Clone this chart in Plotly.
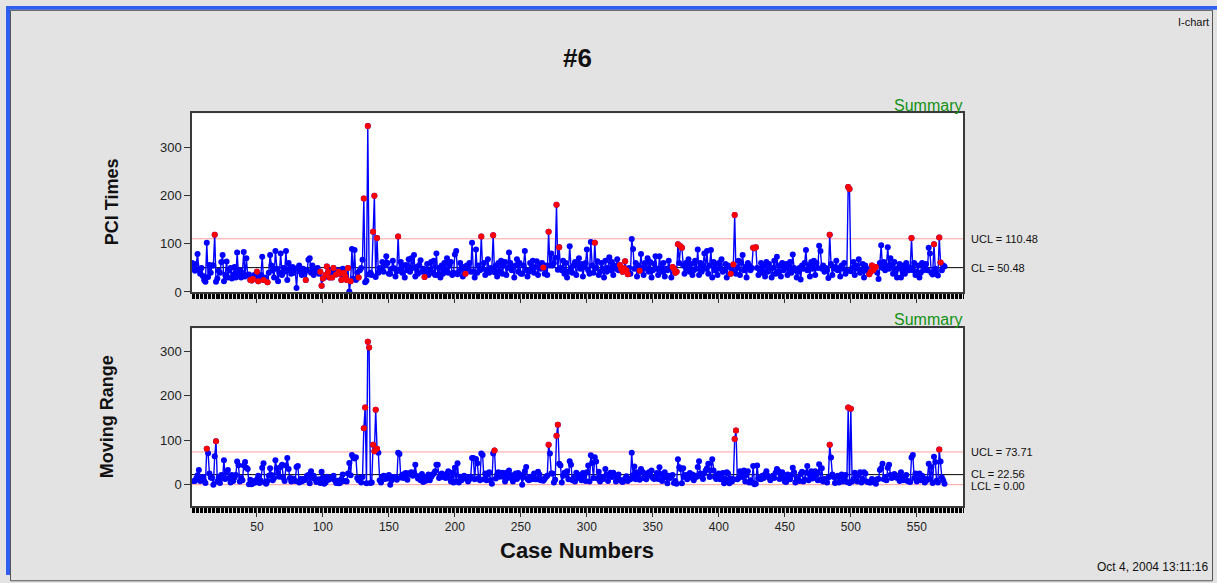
import plotly.graph_objects as go

# ---------------- data ----------------
pci_times = [
    60, 52, 44, 58, 79, 46, 38, 50, 33, 25,
    21, 102, 31, 56, 40, 55, 55, 119, 21, 28,
    44, 40, 62, 77, 22, 35, 63, 30, 45, 50,
    28, 36, 52, 30, 82, 38, 45, 30, 40, 83,
    32, 70, 35, 36, 25, 24, 27, 35, 30, 42,
    22, 26, 35, 73, 25, 30, 28, 20, 40, 77,
    55, 45, 30, 85, 48, 22, 40, 80, 35, 50,
    42, 85, 25, 60, 45, 38, 52, 40, 48, 8,
    50, 55, 42, 35, 48, 38, 25, 45, 67, 70,
    40, 55, 35, 48, 42, 50, 38, 42, 13, 28,
    30, 35, 53, 42, 30, 45, 30, 50, 40, 36,
    45, 42, 38, 25, 48, 40, 32, 25, 50, 1,
    22, 89, 28, 87, 25, 40, 30, 45, 50, 67,
    194, 20, 23, 345, 36, 40, 35, 125, 200, 31,
    112, 40, 50, 45, 62, 42, 55, 74, 60, 38,
    38, 48, 65, 49, 32, 43, 115, 46, 62, 40,
    55, 30, 56, 45, 68, 42, 70, 50, 77, 32,
    52, 38, 56, 66, 42, 48, 31, 40, 58, 35,
    45, 62, 40, 65, 35, 80, 35, 50, 30, 55,
    38, 60, 45, 70, 40, 55, 62, 35, 40, 78,
    85, 37, 42, 60, 50, 32, 52, 38, 55, 48,
    60, 42, 102, 42, 30, 88, 40, 55, 45, 115,
    48, 60, 35, 45, 68, 40, 50, 48, 118, 41,
    55, 32, 60, 42, 65, 38, 55, 62, 35, 50,
    82, 60, 45, 52, 30, 55, 68, 42, 60, 38,
    38, 55, 85, 45, 32, 42, 60, 48, 65, 40,
    52, 64, 35, 58, 48, 60, 51, 38, 55, 35,
    125, 55, 80, 55, 60, 71, 181, 46, 93, 50,
    45, 65, 38, 60, 30, 42, 95, 50, 40, 55,
    62, 35, 55, 70, 48, 58, 32, 52, 60, 88,
    45, 38, 104, 55, 40, 102, 50, 64, 35, 42,
    60, 48, 30, 65, 42, 50, 72, 45, 62, 35,
    55, 48, 68, 45, 56, 48, 42, 50, 64, 45,
    37, 50, 38, 110, 89, 48, 60, 32, 55, 44,
    79, 50, 35, 60, 48, 70, 42, 62, 30, 45,
    58, 74, 48, 35, 74, 50, 42, 60, 32, 48,
    45, 65, 50, 30, 52, 48, 40, 42, 99, 60,
    95, 92, 55, 38, 60, 48, 68, 42, 58, 35,
    45, 65, 48, 88, 35, 60, 42, 55, 80, 48,
    85, 38, 55, 87, 30, 62, 45, 58, 35, 60,
    48, 68, 42, 45, 58, 30, 55, 52, 38, 45,
    57, 160, 38, 50, 65, 35, 60, 77, 45, 52,
    30, 60, 55, 45, 50, 92, 91, 93, 50, 35,
    48, 60, 40, 55, 32, 62, 42, 58, 48, 30,
    50, 65, 38, 73, 42, 55, 32, 60, 45, 52,
    58, 35, 50, 62, 40, 78, 50, 45, 30, 42,
    50, 26, 55, 48, 60, 87, 45, 55, 32, 62,
    48, 65, 35, 60, 50, 96, 85, 48, 55, 42,
    50, 45, 29, 119, 58, 35, 52, 48, 65, 45,
    50, 32, 55, 48, 60, 38, 44, 218, 214, 43,
    50, 62, 35, 55, 48, 68, 40, 45, 58, 30,
    55, 48, 42, 37, 42, 55, 45, 50, 52, 40,
    27, 60, 97, 50, 62, 45, 55, 93, 48, 70,
    55, 38, 62, 45, 30, 50, 58, 30, 45, 55,
    38, 60, 52, 45, 51, 112, 45, 60, 35, 42,
    55, 30, 40, 60, 45, 50, 58, 45, 92, 80,
    40, 36, 99, 48, 39, 34, 113, 61, 45, 55, 53,
]
cases = list(range(1, len(pci_times) + 1))

# moving range of consecutive individual values (defined from case 2 on)
moving_range = [None] + [abs(b - a) for a, b in zip(pci_times[:-1], pci_times[1:])]

# case numbers drawn in red (rule violations) in each panel
pci_flagged = [18, 45, 46, 47, 50, 51, 55, 58, 87, 98, 99, 100, 102, 103, 104, 105,
               107, 108, 110, 112, 113, 114, 116, 117, 118, 119, 121, 127, 131, 134,
               138, 139, 141, 157, 177, 208, 220, 229, 267, 271, 277, 279, 306, 325,
               326, 327, 328, 329, 330, 331, 340, 365, 366, 367, 368, 369, 371, 372,
               409, 411, 412, 426, 427, 428, 484, 498, 499, 514, 515, 516, 517, 518,
               519, 546, 563, 567, 568]
mr_flagged = [12, 19, 131, 132, 134, 135, 138, 139, 140, 141, 230, 271, 277, 278,
              412, 413, 484, 498, 500, 567]

PCI_UCL, PCI_CL = 110.48, 50.48
MR_UCL, MR_CL, MR_LCL = 73.71, 22.56, 0.00

# ---------------- layout helpers ----------------
W, H = 1217, 583
def px(x):
    return x / W
def py(y):
    return 1 - y / H

FONT = "Liberation Sans, Arial, sans-serif"
BLUE = "#0000ff"
RED = "#ff0000"
PINK = "#ff9f9f"
GREEN = "#139213"

X_DOM = [px(192), px(963)]
TOP_DOM = [py(296), py(115)]
BOT_DOM = [py(513), py(333)]

fig = go.Figure()

def add_panel(yvals, flagged, xa, ya):
    fig.add_trace(go.Scatter(
        x=cases, y=yvals, mode="lines+markers", xaxis=xa, yaxis=ya,
        line=dict(color=BLUE, width=1.4),
        marker=dict(color=BLUE, size=6, line=dict(width=0)),
        connectgaps=False, showlegend=False, hoverinfo="x+y"))
    fig.add_trace(go.Scatter(
        x=flagged, y=[yvals[c - 1] for c in flagged], mode="markers",
        xaxis=xa, yaxis=ya,
        marker=dict(color=RED, size=6, line=dict(width=0)),
        showlegend=False, hoverinfo="x+y"))

add_panel(pci_times, pci_flagged, "x", "y")
add_panel(moving_range, mr_flagged, "x2", "y2")

axis_common = dict(
    showline=True, mirror=True, linecolor="#3a3a3a", linewidth=1.5,
    showgrid=False, zeroline=False, ticks="outside", tickcolor="#333333",
)
xcommon = dict(axis_common, range=[0.8, 585], tickmode="linear", tick0=0, dtick=50,
               ticklen=9, tickwidth=1,
               minor=dict(ticks="outside", tickmode="linear", tick0=0, dtick=1,
                          ticklen=5, tickcolor="#000000", tickwidth=1))
ycommon = dict(axis_common, tickmode="linear", tick0=0, dtick=100, ticklen=6,
               tickfont=dict(family=FONT, size=13, color="#222222"))

fig.update_layout(
    width=W, height=H, autosize=False,
    margin=dict(l=0, r=0, t=0, b=0),
    paper_bgcolor="#e3e3e3", plot_bgcolor="#ffffff",
    font=dict(family=FONT, color="#111111"),
    xaxis=dict(xcommon, domain=X_DOM, anchor="y", showticklabels=False),
    yaxis=dict(ycommon, domain=TOP_DOM, anchor="x", range=[0, 371]),
    xaxis2=dict(xcommon, domain=X_DOM, anchor="y2", showticklabels=True,
                tickfont=dict(family=FONT, size=12, color="#222222")),
    yaxis2=dict(ycommon, domain=BOT_DOM, anchor="x2", range=[-48, 352]),
)

shapes = [
    # window frame
    dict(type="rect", xref="paper", yref="paper", x0=px(6), x1=px(10), y0=0, y1=py(6),
         fillcolor="#2f5ff0", line=dict(width=0), layer="below"),
    dict(type="rect", xref="paper", yref="paper", x0=px(6), x1=1, y0=py(10), y1=py(6),
         fillcolor="#2f5ff0", line=dict(width=0), layer="below"),
    dict(type="rect", xref="paper", yref="paper", x0=px(10.5), x1=px(1212.5), y0=-0.01, y1=py(10.5),
         fillcolor="rgba(0,0,0,0)", line=dict(color="#555555", width=1), layer="below"),
]
for yref, val, col in [("y", PCI_UCL, PINK), ("y", PCI_CL, "#000000"),
                       ("y2", MR_UCL, PINK), ("y2", MR_CL, "#000000"), ("y2", MR_LCL, PINK)]:
    xref = "x domain" if yref == "y" else "x2 domain"
    shapes.append(dict(type="line", xref=xref, yref=yref, x0=0, x1=1, y0=val, y1=val,
                       line=dict(color=col, width=1), layer="below"))

def ann(text, x, y, size, xanchor="center", yanchor="middle", color="#111111",
        angle=0, xref="paper", yref="paper"):
    return dict(text=text, x=x, y=y, xref=xref, yref=yref, showarrow=False,
                xanchor=xanchor, yanchor=yanchor, textangle=angle,
                font=dict(family=FONT, size=size, color=color))

annotations = [
    ann("<b>#6</b>", px(577), py(59), 26),
    ann("I-chart", px(1211), py(22), 11, xanchor="right"),
    ann("Oct 4, 2004 13:11:16", px(1211), py(575), 12, xanchor="right"),
    ann("Summary", px(964), py(107), 16, xanchor="right", color=GREEN),
    ann("Summary", px(964), py(324), 16, xanchor="right", color=GREEN),
    ann("<b>PCI Times</b>", px(112), py(205), 18, angle=-90),
    ann("<b>Moving Range</b>", px(107), py(423), 18, angle=-90),
    ann("<b>Case Numbers</b>", px(577), py(558), 22),
    ann("UCL = %.2f" % PCI_UCL, px(969), PCI_UCL, 11, xanchor="left", yref="y"),
    ann("CL = %.2f" % PCI_CL, px(969), PCI_CL, 11, xanchor="left", yref="y"),
    ann("UCL = %.2f" % MR_UCL, px(969), MR_UCL, 11, xanchor="left", yref="y2"),
    ann("CL = %.2f" % MR_CL, px(969), MR_CL + 1.5, 11, xanchor="left", yref="y2"),
    ann("LCL = %.2f" % MR_LCL, px(969), MR_LCL - 2.5, 11, xanchor="left", yref="y2"),
]

fig.update_layout(shapes=shapes, annotations=annotations)
fig.write_html("out.html")
